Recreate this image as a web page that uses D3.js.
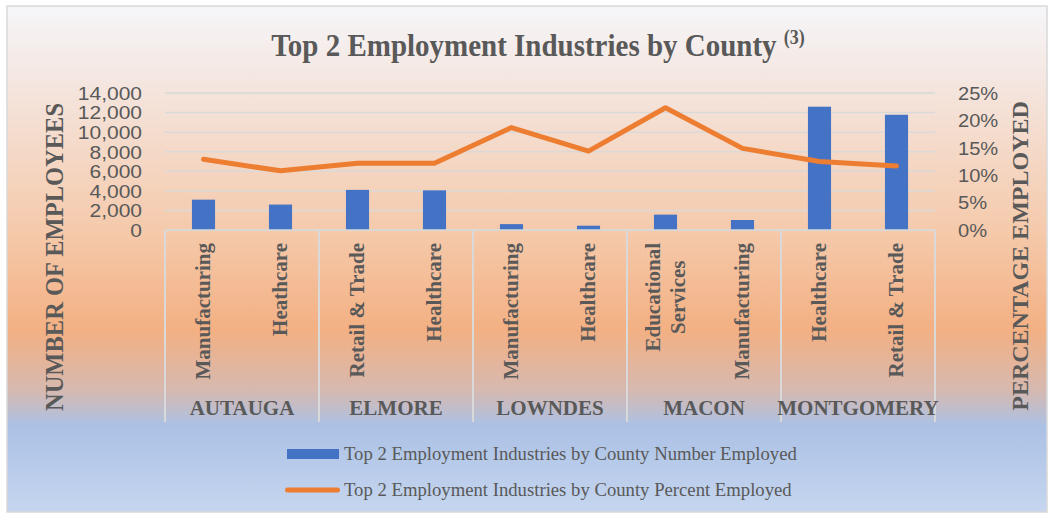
<!DOCTYPE html>
<html>
<head>
<meta charset="utf-8">
<script src="https://cdn.jsdelivr.net/npm/d3@7"></script>
<style>
  html, body { margin: 0; padding: 0; background: #ffffff; }
  svg { display: block; }
</style>
</head>
<body>
<svg id="chart" width="1053" height="516"></svg>
<script>
// Top two employment industries for each county
const counties = ["AUTAUGA", "ELMORE", "LOWNDES", "MACON", "MONTGOMERY"];
const industries = [
  "Manufacturing", "Heathcare",
  "Retail & Trade", "Healthcare",
  "Manufacturing", "Healthcare",
  "Educational Services", "Manufacturing",
  "Healthcare", "Retail & Trade"
];
const numberEmployed = [3100, 2600, 4100, 4050, 600, 440, 1570, 1020, 12600, 11780];
const percentEmployed = [0.129, 0.108, 0.122, 0.122, 0.187, 0.144, 0.223, 0.149, 0.125, 0.117];
const countTicks = [0, 2000, 4000, 6000, 8000, 10000, 12000, 14000];
const percentTicks = [0, 0.05, 0.10, 0.15, 0.20, 0.25];
const seriesNames = [
  "Top 2 Employment Industries by County Number Employed",
  "Top 2 Employment Industries by County Percent Employed"
];

const serif = "'Liberation Serif', 'Times New Roman', serif";
const sans = "'Liberation Sans', Arial, sans-serif";
const textGray = "#595959";
const gridGray = "#d9d9d9";
const barBlue = "#4472c4";
const lineOrange = "#ed7d31";

const svg = d3.select("#chart");

// Background gradient of the chart area
const defs = svg.append("defs");
const grad = defs.append("linearGradient")
  .attr("id", "bg").attr("x1", 0).attr("y1", 0).attr("x2", 0).attr("y2", 1);
[
  [0.00, "#f6f6f9"],
  [0.16, "#f4e5de"],
  [0.45, "#f5c9aa"],
  [0.64, "#f3b083"],
  [0.76, "#d6b9b0"],
  [0.83, "#abc1e5"],
  [1.00, "#c6d6ef"]
].forEach(([o, c]) => grad.append("stop").attr("offset", o).attr("stop-color", c));

svg.append("rect")
  .attr("x", 7).attr("y", 6).attr("width", 1040).attr("height", 506)
  .attr("fill", "url(#bg)")
  .attr("stroke", gridGray).attr("stroke-width", 1.5);

// Plot area
const plot = { left: 165, right: 935, top: 93, bottom: 230 };

const x = d3.scaleBand()
  .domain(d3.range(industries.length))
  .range([plot.left, plot.right])
  .paddingInner(0.7)
  .paddingOuter(0.35);

const yCount = d3.scaleLinear().domain([0, 14000]).range([plot.bottom, plot.top]);
const yPct = d3.scaleLinear().domain([0, 0.25]).range([plot.bottom, plot.top]);

// Horizontal gridlines
svg.append("g")
  .selectAll("line")
  .data(countTicks)
  .join("line")
  .attr("x1", plot.left).attr("x2", plot.right)
  .attr("y1", d => yCount(d)).attr("y2", d => yCount(d))
  .attr("stroke", gridGray).attr("stroke-width", 1.5);

// Left axis (number of employees); digits drawn slightly wide
const leftAxis = svg.append("g")
  .attr("transform", `translate(${plot.left - 23},0)`)
  .call(d3.axisLeft(yCount).tickValues(countTicks).tickSize(0).tickPadding(0)
    .tickFormat(d3.format(",")));
leftAxis.select(".domain").remove();
leftAxis.selectAll("text")
  .attr("font-family", sans).attr("font-size", 17.5).attr("fill", textGray)
  .attr("dy", "0.36em")
  .attr("transform", "scale(1.2,1)");

// Right axis (percentage employed)
const rightAxis = svg.append("g")
  .attr("transform", `translate(${plot.right + 23},0)`)
  .call(d3.axisRight(yPct).tickValues(percentTicks).tickSize(0).tickPadding(0)
    .tickFormat(d3.format(".0%")));
rightAxis.select(".domain").remove();
rightAxis.selectAll("text")
  .attr("font-family", sans).attr("font-size", 17.5).attr("fill", textGray)
  .attr("dy", "0.36em")
  .attr("transform", "scale(1.15,1)");

// Bars: number employed
svg.append("g")
  .selectAll("rect")
  .data(numberEmployed)
  .join("rect")
  .attr("x", (d, i) => x(i))
  .attr("width", x.bandwidth())
  .attr("y", d => yCount(d))
  .attr("height", d => yCount(0) - yCount(d))
  .attr("fill", barBlue);

// Line: percent employed
const line = d3.line()
  .x((d, i) => x(i) + x.bandwidth() / 2)
  .y(d => yPct(d));
svg.append("path")
  .datum(percentEmployed)
  .attr("d", line)
  .attr("fill", "none")
  .attr("stroke", lineOrange)
  .attr("stroke-width", 5)
  .attr("stroke-linejoin", "round")
  .attr("stroke-linecap", "round");

// Category axis: county groups with dividers
const groupSize = industries.length / counties.length;
const groupEdges = d3.range(counties.length + 1).map(g => plot.left + g * groupSize * x.step());
const axisBottom = 422;

svg.append("line")
  .attr("x1", plot.left).attr("x2", plot.right)
  .attr("y1", plot.bottom).attr("y2", plot.bottom)
  .attr("stroke", gridGray).attr("stroke-width", 1.5);

svg.append("g")
  .selectAll("line")
  .data(groupEdges)
  .join("line")
  .attr("x1", d => d).attr("x2", d => d)
  .attr("y1", plot.bottom).attr("y2", axisBottom)
  .attr("stroke", gridGray).attr("stroke-width", 2);

// Industry labels, rotated, wrapped when too long
const labelTop = 243;
const labelMax = 150;
const labelStretch = 1.05;
const catLabels = svg.append("g")
  .attr("font-family", serif).attr("font-size", 20).attr("font-weight", "bold")
  .attr("fill", textGray);

industries.forEach((name, i) => {
  const cx = x(i) + x.bandwidth() / 2;
  // word wrap
  const probe = catLabels.append("text");
  const words = name.split(" ");
  const lines = [];
  let current = "";
  words.forEach(w => {
    const trial = current ? current + " " + w : w;
    probe.text(trial);
    if (probe.node().getComputedTextLength() > labelMax && current) {
      lines.push(current);
      current = w;
    } else {
      current = trial;
    }
  });
  lines.push(current);
  probe.remove();

  const lineGap = 25;
  const t = catLabels.append("text").attr("text-anchor", "middle");
  lines.forEach((l, k) => {
    t.append("tspan")
      .attr("x", 0)
      .attr("dy", k === 0 ? 0 : lineGap)
      .text(l);
  });
  const maxLen = d3.max(t.selectAll("tspan").nodes(), n => n.getComputedTextLength()) * labelStretch;
  const blockOffset = -(lines.length - 1) * lineGap / 2 + 6.8;
  t.attr("transform",
    `translate(${cx + blockOffset},${labelTop + maxLen / 2}) rotate(-90) scale(${labelStretch},1)`);
});

// County labels
svg.append("g")
  .selectAll("text")
  .data(counties)
  .join("text")
  .attr("x", (d, g) => (groupEdges[g] + groupEdges[g + 1]) / 2)
  .attr("y", 415)
  .attr("text-anchor", "middle")
  .attr("font-family", serif).attr("font-size", 21).attr("font-weight", "bold")
  .attr("fill", textGray)
  .text(d => d);

// Title, drawn slightly tall
const title = svg.append("text")
  .attr("transform", "translate(538,56) scale(1,1.12)")
  .attr("text-anchor", "middle")
  .attr("font-family", serif).attr("font-weight", "bold")
  .attr("fill", textGray);
title.append("tspan").attr("font-size", 29).text("Top 2 Employment Industries by County ");
title.append("tspan").attr("font-size", 18).attr("dy", -11).text("(3)");

// Axis titles
svg.append("text")
  .attr("transform", `translate(63,257) rotate(-90)`)
  .attr("text-anchor", "middle")
  .attr("font-family", serif).attr("font-size", 24.5).attr("font-weight", "bold")
  .attr("fill", textGray)
  .text("NUMBER OF EMPLOYEES");

svg.append("text")
  .attr("transform", `translate(1028,256) rotate(-90)`)
  .attr("text-anchor", "middle")
  .attr("font-family", serif).attr("font-size", 24).attr("font-weight", "bold")
  .attr("fill", textGray)
  .text("PERCENTAGE EMPLOYED");

// Legend
const legend = svg.append("g")
  .attr("font-family", serif).attr("font-size", 18.7).attr("fill", textGray);

legend.append("rect")
  .attr("x", 287).attr("y", 449).attr("width", 52).attr("height", 10)
  .attr("fill", barBlue);
legend.append("text")
  .attr("x", 344).attr("y", 460)
  .text(seriesNames[0]);

legend.append("line")
  .attr("x1", 287.5).attr("x2", 337.5).attr("y1", 490).attr("y2", 490)
  .attr("stroke", lineOrange).attr("stroke-width", 5).attr("stroke-linecap", "round");
legend.append("text")
  .attr("x", 344).attr("y", 496)
  .text(seriesNames[1]);
</script>
</body>
</html>
